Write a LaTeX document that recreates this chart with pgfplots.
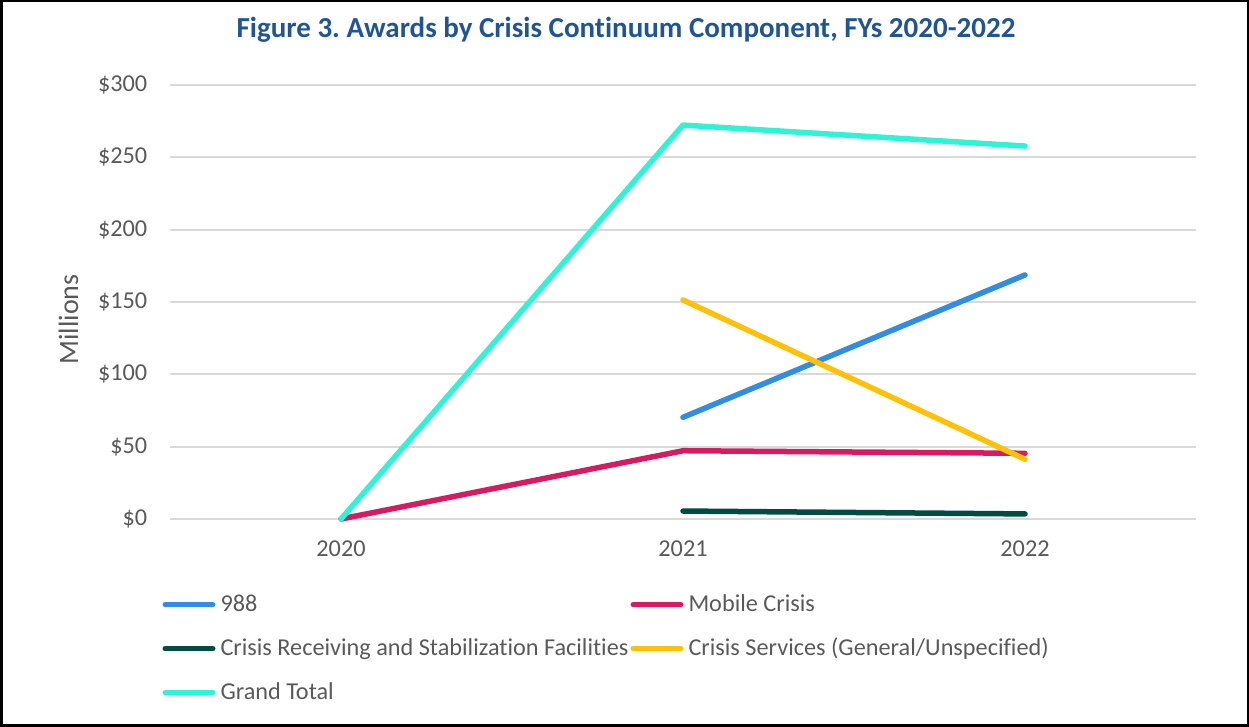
\documentclass[border=0pt]{standalone}
\usepackage{fontspec}
\setmainfont{Carlito}[Ligatures={NoCommon}]
\usepackage{pgfplots}
\pgfplotsset{compat=1.18}

\definecolor{c988}{HTML}{2F8DE4}
\definecolor{cmobile}{HTML}{D81B60}
\definecolor{crecv}{HTML}{004D40}
\definecolor{cserv}{HTML}{FFC107}
\definecolor{ctotal}{HTML}{2CF5D6}
\definecolor{titleblue}{HTML}{1F5597}
\definecolor{txtgray}{HTML}{595959}
\definecolor{gridgray}{HTML}{D9D9D9}

\begin{document}
\frenchspacing
\begin{tikzpicture}
% frame of the whole figure (1px = 0.4pt)
\draw[black, line width=1pt] (0.5pt,0.5pt) rectangle (499.1pt,290.3pt);
\node[font=\bfseries\fontsize{11.6}{13}\selectfont, text=titleblue] at (250.4pt,278.8pt)
  {Figure 3. Awards by Crisis Continuum Component, FYs 2020-2022};

\begin{axis}[
    at={(68pt,83.2pt)}, anchor=south west,
    scale only axis,
    width=410.4pt, height=173.6pt,
    xmin=-0.5, xmax=2.5,
    ymin=0, ymax=300,
    xtick={0,1,2},
    xticklabels={2020,2021,2022},
    ytick={0,50,...,300},
    yticklabel={\$\pgfmathprintnumber{\tick}},
    /pgf/number format/assume math mode=true,
    ymajorgrids,
    major grid style={gridgray, line width=0.7pt},
    axis line style={draw=none},
    tick style={draw=none},
    tick label style={font=\fontsize{9.7}{11.5}\selectfont, text=txtgray},
    yticklabel style={xshift=-5.6pt},
    xticklabel style={yshift=-5pt},
    ylabel={Millions},
    ylabel style={at={(axis description cs:-0.099,0.46)}, anchor=center,
                  font=\fontsize{11.2}{13}\selectfont, text=txtgray},
    clip=false,
    every axis plot/.append style={line width=2.2pt, line cap=round, line join=round},
    legend columns=2,
    legend cell align=left,
    legend image code/.code={\draw[#1] (0pt,0pt) -- (19pt,0pt);},
    legend style={at={(axis description cs:-0.0078,-0.161)}, anchor=north west,
                  draw=none, fill=none, inner sep=0pt,
                  font=\fontsize{9.7}{11.5}\selectfont, text=txtgray,
                  row sep=5.2pt,
                  nodes={inner xsep=2pt}},
]
\addplot[c988] coordinates {(1,70.3) (2,168.7)};
\addlegendentry{\makebox[162pt][l]{988}}
\addplot[cmobile] coordinates {(0,0) (1,47.2) (2,45.4)};
\addlegendentry{Mobile Crisis}
\addplot[crecv] coordinates {(1,5.5) (2,3.5)};
\addlegendentry{\makebox[162pt][l]{Crisis Receiving and Stabilization Facilities}}
\addplot[cserv] coordinates {(1,151.4) (2,41.3)};
\addlegendentry{Crisis Services (General/Unspecified)}
\addplot[ctotal] coordinates {(0,0) (1,272.3) (2,257.8)};
\addlegendentry{\makebox[162pt][l]{Grand Total}}
\end{axis}
\end{tikzpicture}
\end{document}
